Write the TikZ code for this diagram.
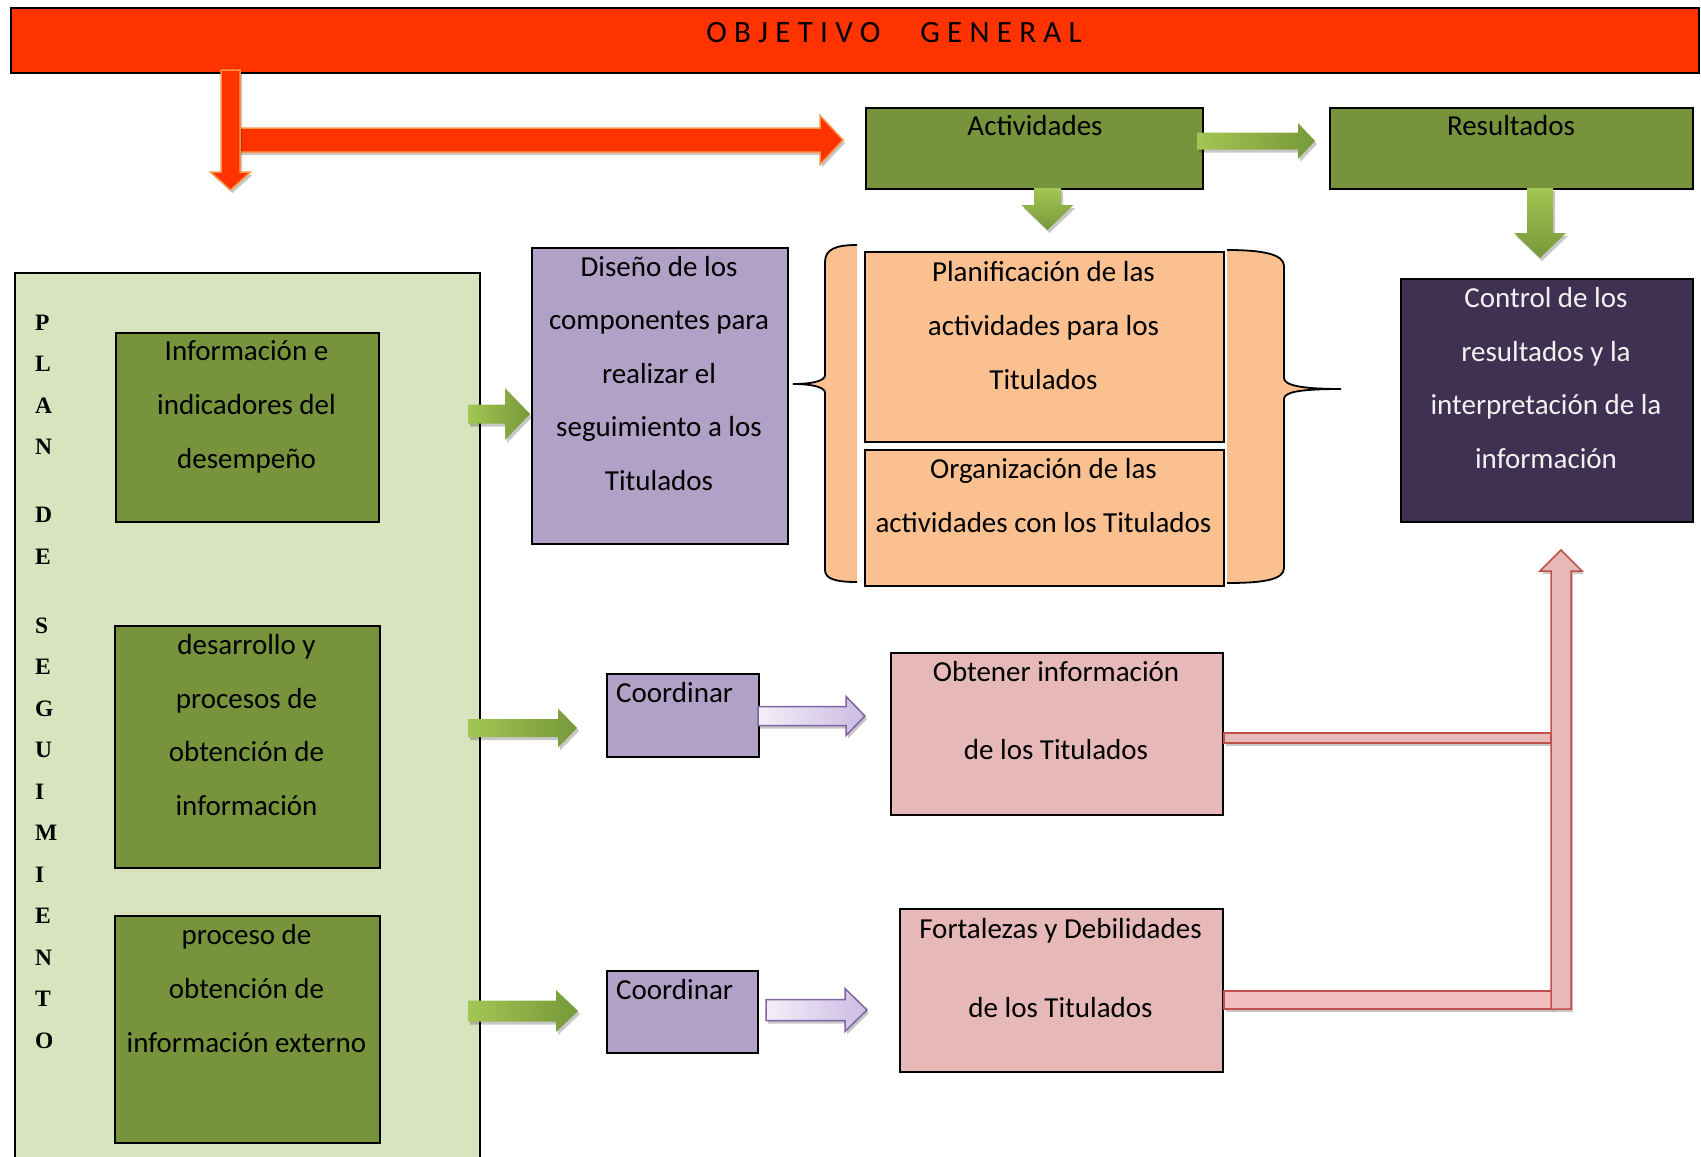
\documentclass[tikz,border=0pt]{standalone}
\usepackage{fontspec}
\setmainfont{Carlito}
\newfontfamily\serifb{Liberation Serif}
\usetikzlibrary{calc,shadows}
\definecolor{hdrred}{HTML}{FF3300}
\definecolor{hdrline}{HTML}{F79646}
\definecolor{olive}{HTML}{77933C}
\definecolor{panelg}{HTML}{D7E4BD}
\definecolor{lilac}{HTML}{B2A1C7}
\definecolor{peach}{HTML}{FAC090}
\definecolor{plum}{HTML}{403152}
\definecolor{rose}{HTML}{E6B9B8}
\definecolor{roseline}{HTML}{C0504D}
\definecolor{glight}{HTML}{A2C653}
\definecolor{gdark}{HTML}{76983A}
\definecolor{plight}{HTML}{F3EFF8}
\definecolor{pdark}{HTML}{CBBBE3}
\definecolor{pline}{HTML}{8064A2}
\definecolor{ctrltext}{HTML}{F2F2F2}
% block arrows: style, tail, tip, shaft half width, head half width, head length
\newcommand\blkR[6]{\path[#1] let \p1=#2, \p2=#3 in
  (\x1,\y1+#4) -- (\x2-#6,\y1+#4) -- (\x2-#6,\y1+#5) -- (\x2,\y1) --
  (\x2-#6,\y1-#5) -- (\x2-#6,\y1-#4) -- (\x1,\y1-#4) -- cycle;}
\newcommand\blkD[6]{\path[#1] let \p1=#2, \p2=#3 in
  (\x1-#4,\y1) -- (\x1-#4,\y2+#6) -- (\x1-#5,\y2+#6) -- (\x1,\y2) --
  (\x1+#5,\y2+#6) -- (\x1+#4,\y2+#6) -- (\x1+#4,\y1) -- cycle;}
\newcommand\blkU[6]{\path[#1] let \p1=#2, \p2=#3 in
  (\x1-#4,\y1) -- (\x1-#4,\y2-#6) -- (\x1-#5,\y2-#6) -- (\x1,\y2) --
  (\x1+#5,\y2-#6) -- (\x1+#4,\y2-#6) -- (\x1+#4,\y1) -- cycle;}
\tikzset{
  box/.style={draw=black, line width=2pt, inner sep=0pt, anchor=north west},
  txt/.style={font=\fontsize{29}{53.6}\selectfont, align=center, inner sep=0pt, anchor=base},
  shad/.style={drop shadow={shadow xshift=2pt, shadow yshift=-3pt, opacity=0.22, fill=black}},
  garrowR/.style={shad, left color=glight, right color=gdark, draw=none},
  garrowD/.style={shad, top color=glight, bottom color=gdark, draw=none},
  parrow/.style={shad, left color=plight, right color=pdark, draw=pline, line width=1.5pt},
  rarrow/.style={shad, fill=hdrred, draw=hdrline, line width=1.5pt},
  pinkarrow/.style={shad, fill=rose, draw=roseline, line width=1.5pt},
  bracefill/.style={fill=peach},
  bracedraw/.style={draw=black, line width=1.8pt},
}
\begin{document}
\begin{tikzpicture}[x=1pt,y=-1pt]
\useasboundingbox (0,0) rectangle (1701,1157);
% header
\node[box, fill=hdrred, minimum width=1688pt, minimum height=65pt] (hdr) at (10,7) {};
\node[font=\fontsize{31}{31}\selectfont\addfontfeatures{LetterSpace=23.5}, anchor=base, inner sep=0pt] (hdrt) at (894,42) {OBJETIVO\hspace{40pt}GENERAL};
% top boxes
\node[box, fill=olive, minimum width=337pt, minimum height=81pt] (act) at (865,107) {};
\node[txt] (actt) at (1035,135) {Actividades};
\node[box, fill=olive, minimum width=363pt, minimum height=81pt] (res) at (1329,107) {};
\node[txt] (rest) at (1511,135) {Resultados};
% left panel
\node[box, fill=panelg, minimum width=465pt, minimum height=920pt] (panel) at (14,272) {};
\node[anchor=base west, align=left, inner sep=0pt, font=\serifb\bfseries\fontsize{23.5}{41.5}\selectfont] (vlab) at (35,1048)
  {P\\L\\A\\N\\[26.5pt]D\\E\\[27.5pt]S\\E\\G\\U\\I\\M\\I\\E\\N\\T\\O};
\node[box, fill=olive, minimum width=263pt, minimum height=189pt] (info) at (115,332) {};
\node[txt] (infot) at (246.5,468) {Información e\\indicadores del\\desempeño};
\node[box, fill=olive, minimum width=265pt, minimum height=242pt] (desa) at (114,625) {};
\node[txt] (desat) at (246.5,815.5) {desarrollo y\\procesos de\\obtención de\\información};
\node[box, fill=olive, minimum width=265pt, minimum height=227pt] (proc) at (114,915) {};
\node[txt] (proct) at (246.5,1052) {proceso de\\obtención de\\información externo};
% design box
\node[box, fill=lilac, minimum width=256pt, minimum height=296pt] (dise) at (531,247) {};
\node[txt] (diset) at (659,490.5) {Diseño de los\\componentes para\\realizar el\\seguimiento a los\\Titulados};
% braces
\fill[bracefill] (857,245) .. controls (836,245) and (825,249) .. (825,262) -- (825,375)
  .. controls (825,381) and (812,384) .. (793,384) .. controls (812,384) and (825,387) .. (825,393)
  -- (825,570) .. controls (825,579) and (836,582) .. (857,582) -- cycle;
\draw[bracedraw] (857,245) .. controls (836,245) and (825,249) .. (825,262) -- (825,375)
  .. controls (825,381) and (812,384) .. (793,384) .. controls (812,384) and (825,387) .. (825,393)
  -- (825,570) .. controls (825,579) and (836,582) .. (857,582);
\fill[bracefill] (1227,250) .. controls (1262,250) and (1284,254) .. (1284,266) -- (1284,378)
  .. controls (1284,385) and (1300,389) .. (1341,389) .. controls (1300,389) and (1284,392) .. (1284,399)
  -- (1284,568) .. controls (1284,580) and (1262,583) .. (1227,583) -- cycle;
\draw[bracedraw] (1227,250) .. controls (1262,250) and (1284,254) .. (1284,266) -- (1284,378)
  .. controls (1284,385) and (1300,389) .. (1341,389) .. controls (1300,389) and (1284,392) .. (1284,399)
  -- (1284,568) .. controls (1284,580) and (1262,583) .. (1227,583);
\node[box, fill=peach, minimum width=359pt, minimum height=190pt] (planif) at (864,251) {};
\node[txt] (planift) at (1043.5,389) {Planificación de las\\actividades para los\\Titulados};
\node[box, fill=peach, minimum width=359pt, minimum height=136pt] (orga) at (864,449) {};
\node[txt] (orgat) at (1043.5,532.5) {Organización de las\\actividades con los Titulados};
% control box
\node[box, fill=plum, minimum width=292pt, minimum height=243pt] (ctrl) at (1400,278) {};
\node[txt, text=ctrltext] (ctrlt) at (1546,468.5) {Control de los\\resultados y la\\interpretación de la\\información};
% coordinar boxes
\node[box, fill=lilac, minimum width=152pt, minimum height=83pt] (coor1) at (606,673) {};
\node[txt, anchor=base west] (coor1t) at (616,702) {Coordinar};
\node[box, fill=lilac, minimum width=151pt, minimum height=82pt] (coor2) at (606,970) {};
\node[txt, anchor=base west] (coor2t) at (616,999) {Coordinar};
% pink boxes
\node[box, fill=rose, minimum width=332pt, minimum height=162pt] (obt) at (890,652) {};
\node[txt] (obtt) at (1056,759) {Obtener información\\[24.4pt]de los Titulados};
\node[box, fill=rose, minimum width=323pt, minimum height=163pt] (fort) at (899,908) {};
\node[txt] (fortt) at (1060.5,1017) {Fortalezas y Debilidades\\[25.4pt]de los Titulados};
% connector coordinates
\coordinate (rh0) at (239,140);  \coordinate (rh1) at (843,140);
\coordinate (rv0) at (230.5,70); \coordinate (rv1) at (230.5,190);
\coordinate (ar0) at (1197,141); \coordinate (ar1) at (1315,141);
\coordinate (ad0) at (1047.5,188); \coordinate (ad1) at (1047.5,230);
\coordinate (rd0) at (1540,188); \coordinate (rd1) at (1540,258);
\coordinate (g10) at (468,414); \coordinate (g11) at (530,414);
\coordinate (g20) at (468,728); \coordinate (g21) at (577,728);
\coordinate (g30) at (468,1011); \coordinate (g31) at (578,1011);
\coordinate (p10) at (758,716); \coordinate (p11) at (865,716);
\coordinate (p20) at (766,1010); \coordinate (p21) at (867,1010);
\coordinate (pu0) at (1561,1009); \coordinate (pu1) at (1561,550);
% red arrows from header
\blkR{rarrow}{(rh0)}{(rh1)}{12pt}{24.5pt}{23pt}
\blkD{rarrow}{(rv0)}{(rv1)}{9.5pt}{20pt}{18pt}
% green arrows
\blkR{garrowR}{(ar0)}{(ar1)}{8.5pt}{18pt}{17pt}
\blkD{garrowD}{(ad0)}{(ad1)}{13.5pt}{26pt}{25pt}
\blkD{garrowD}{(rd0)}{(rd1)}{13pt}{26pt}{25pt}
\blkR{garrowR}{(g10)}{(g11)}{9.5pt}{26pt}{25pt}
\blkR{garrowR}{(g20)}{(g21)}{9pt}{19.5pt}{19pt}
\blkR{garrowR}{(g30)}{(g31)}{10.5pt}{21pt}{22pt}
% purple arrows
\blkR{parrow}{(p10)}{(p11)}{9.5pt}{19.5pt}{19pt}
\blkR{parrow}{(p20)}{(p21)}{10.5pt}{21.5pt}{22pt}
% pink connectors
\draw[shad, fill=rose, draw=roseline, line width=1.5pt] (obt.east |- 0,733) rectangle (1551,743);
\draw[shad, top color=rose!80!red!60, middle color=white!70!rose, bottom color=rose!80!red!60, draw=roseline, line width=1.5pt] (fort.east |- 0,991) rectangle (1552,1009);
\blkU{pinkarrow}{(pu0)}{(pu1)}{10pt}{21pt}{21pt}
\end{tikzpicture}
\end{document}
